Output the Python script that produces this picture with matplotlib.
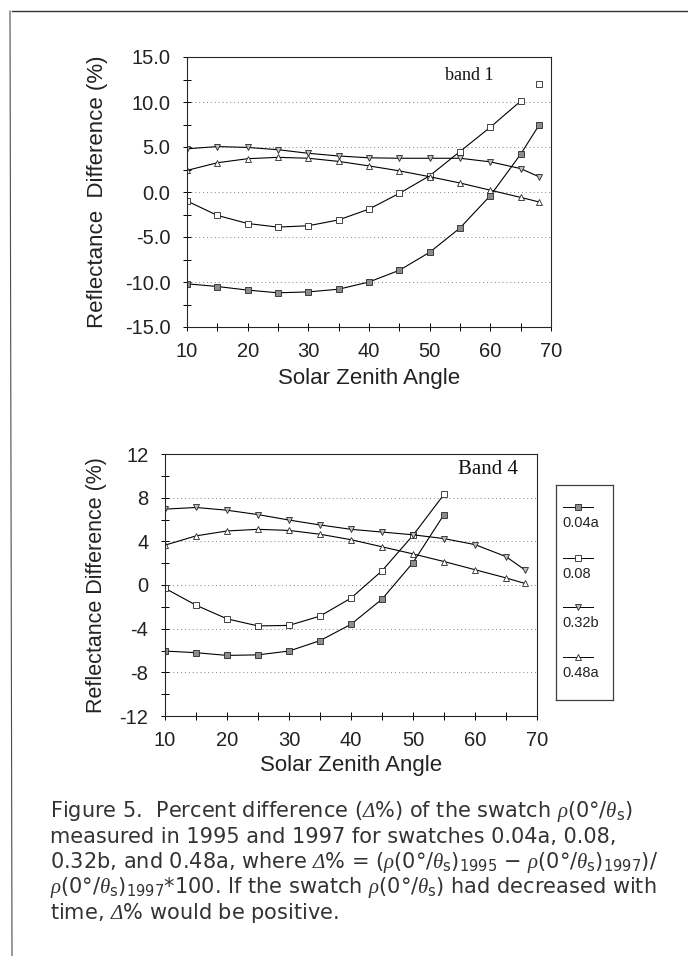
"""Swatch reflectance difference vs solar zenith angle (band 1 and band 4)."""

import matplotlib

matplotlib.use("Agg")
import matplotlib.pyplot as plt
from matplotlib.lines import Line2D
from matplotlib.ticker import MultipleLocator

plt.rcParams["font.family"] = ["Liberation Sans", "DejaVu Sans"]
plt.rcParams["mathtext.fontset"] = "custom"
plt.rcParams["mathtext.rm"] = "DejaVu Sans"
plt.rcParams["mathtext.it"] = "Liberation Serif:italic"
plt.rcParams["mathtext.cal"] = "Liberation Serif:italic"
plt.rcParams["mathtext.bf"] = "DejaVu Sans:bold"

# ---- data ----
angles = [10, 15, 20, 25, 30, 35, 40, 45, 50, 55, 60, 65, 68]
swatches = ["0.04a", "0.08", "0.32b", "0.48a"]

band1_004a = [-10.2, -10.5, -10.9, -11.2, -11.1, -10.8, -10.0, -8.7, -6.7, -4.0, -0.4, 4.2, 7.4]
band1_008 = [-1.0, -2.6, -3.5, -3.9, -3.75, -3.1, -1.9, -0.15, 1.8, 4.5, 7.2, 10.1]
band1_032b = [4.8, 5.05, 4.95, 4.7, 4.3, 4.0, 3.8, 3.75, 3.75, 3.75, 3.35, 2.6, 1.7]
band1_048a = [2.4, 3.25, 3.7, 3.85, 3.75, 3.4, 2.9, 2.35, 1.7, 1.0, 0.2, -0.6, -1.1]
band1_008_extra_x = [68]
band1_008_extra_y = [12.0]

band4_004a = [-6.05, -6.2, -6.45, -6.4, -6.05, -5.1, -3.6, -1.3, 2.05, 6.45]
band4_008 = [-0.3, -1.85, -3.1, -3.75, -3.7, -2.85, -1.2, 1.3, 4.55, 8.3]
band4_032b = [6.95, 7.1, 6.85, 6.45, 5.95, 5.5, 5.1, 4.85, 4.6, 4.25, 3.7, 2.6, 1.4]
band4_048a = [3.65, 4.5, 4.95, 5.1, 5.0, 4.65, 4.15, 3.5, 2.85, 2.15, 1.4, 0.65, 0.15]

styles = {
    "0.04a": dict(marker="s", mfc="0.55", mec="0.15"),
    "0.08": dict(marker="s", mfc="white", mec="0.15"),
    "0.32b": dict(marker="v", mfc="0.75", mec="0.15"),
    "0.48a": dict(marker="^", mfc="white", mec="0.15"),
}
TICK_COLOR = "#222222"


def draw_series(ax, x, y, name):
    ax.plot(x[: len(y)], y, color="black", lw=0.8, ms=5.0, mew=0.6, **styles[name])


def style_axes(ax, ylim, ymajor, yfmt):
    ax.set_xlim(10, 70)
    ax.set_ylim(*ylim)
    ax.xaxis.set_major_locator(MultipleLocator(10))
    ax.xaxis.set_minor_locator(MultipleLocator(5))
    ax.yaxis.set_major_locator(MultipleLocator(ymajor))
    ax.yaxis.set_minor_locator(MultipleLocator(ymajor / 2))
    ax.yaxis.set_major_formatter(yfmt)
    ax.tick_params(which="both", direction="inout", length=6, width=0.7,
                   colors="black", labelcolor=TICK_COLOR, labelsize=14.5)
    ax.tick_params(axis="x", which="both", pad=8)
    ax.tick_params(axis="y", which="both", pad=9)
    ax.tick_params(which="both", top=False, right=False)
    for sp in ax.spines.values():
        sp.set_linewidth(0.8)
        sp.set_color("0.15")
    ax.grid(axis="y", which="major", ls=(0, (1, 3)), color="0.5", lw=0.7)
    ax.set_axisbelow(True)
    ax.set_xlabel("Solar Zenith Angle", fontsize=16, color=TICK_COLOR)


fig = plt.figure(figsize=(6.88, 9.56), dpi=100)

# page frame (top and left rule)
fig.add_artist(Line2D([12 / 688, 1.0], [1 - 11 / 956, 1 - 11 / 956],
                      transform=fig.transFigure, color="0.2", lw=1.0))
fig.add_artist(Line2D([12 / 688, 10 / 688], [0.0, 1 - 11 / 956],
                      transform=fig.transFigure, color="0.3", lw=0.8))

# ---- band 1 ----
ax1 = fig.add_axes([187 / 688, 1 - 327 / 956, 364 / 688, 270 / 956])
for name, vals in zip(swatches, [band1_004a, band1_008, band1_032b, band1_048a]):
    draw_series(ax1, angles, vals, name)
ax1.plot(band1_008_extra_x, band1_008_extra_y, ls="none", ms=4.0, mew=0.6,
         **styles["0.08"])
style_axes(ax1, (-15, 15), 5, lambda v, p: f"{v:.1f}")
ax1.set_ylabel("Reflectance  Difference (%)", fontsize=16, color=TICK_COLOR)
ax1.yaxis.set_label_coords(-0.217, 0.5)
ax1.xaxis.set_label_coords(0.5, -0.152)
ax1.text(0.71, 0.933, "band 1", transform=ax1.transAxes, ha="left", va="center",
         fontsize=13, family="Liberation Serif", color="#111111")

# ---- band 4 ----
ax2 = fig.add_axes([165 / 688, 1 - 716 / 956, 372 / 688, 262 / 956])
for name, vals in zip(swatches, [band4_004a, band4_008, band4_032b, band4_048a]):
    draw_series(ax2, angles, vals, name)
style_axes(ax2, (-12, 12), 4, lambda v, p: f"{v:.0f}")
ax2.set_ylabel("Reflectance Difference (%)", fontsize=15.5, color=TICK_COLOR)
ax2.yaxis.set_label_coords(-0.156, 0.5)
ax2.xaxis.set_label_coords(0.5, -0.149)
ax2.text(0.788, 0.939, "Band 4", transform=ax2.transAxes, ha="left", va="center",
         fontsize=15, family="Liberation Serif", color="#111111")

# ---- legend box (label below each handle) ----
lax = fig.add_axes([556 / 688, 1 - 700 / 956, 57 / 688, 215 / 956])
lax.set_xlim(0, 1)
lax.set_ylim(0, 1)
lax.set_xticks([])
lax.set_yticks([])
for sp in lax.spines.values():
    sp.set_linewidth(0.9)
    sp.set_color("0.25")
handle_y = [0.898, 0.66, 0.433, 0.2]
for name, hy in zip(swatches, handle_y):
    lax.plot([0.12, 0.65], [hy, hy], color="black", lw=0.7)
    lax.plot([0.385], [hy], ls="none", ms=4.5, mew=0.6, **styles[name])
    lax.text(0.12, hy - 0.075, name, ha="left", va="center", fontsize=10.5,
             color=TICK_COLOR)

# ---- caption ----
rho = r"$\rho$(0°/$\theta_\mathrm{s}$)"
delta = r"$\mathcal{\Delta}$%"
caption = [
    "Figure 5.  Percent difference (" + delta + ") of the swatch " + rho,
    "measured in 1995 and 1997 for swatches 0.04a, 0.08,",
    "0.32b, and 0.48a, where " + delta + r" = ($\rho$(0°/$\theta_\mathrm{s}$)$_{1995}$"
    r" $-$ $\rho$(0°/$\theta_\mathrm{s}$)$_{1997}$)/",
    r"$\rho$(0°/$\theta_\mathrm{s}$)$_{1997}$*100. If the swatch " + rho
    + " had decreased with",
    "time, " + delta + " would be positive.",
]
for i, line in enumerate(caption):
    fig.text(50 / 688, 1 - (812 + 25.3 * i) / 956, line, ha="left", va="center",
             fontsize=15, family="DejaVu Sans", color="#333333")

fig.savefig("out.png", dpi=100)
